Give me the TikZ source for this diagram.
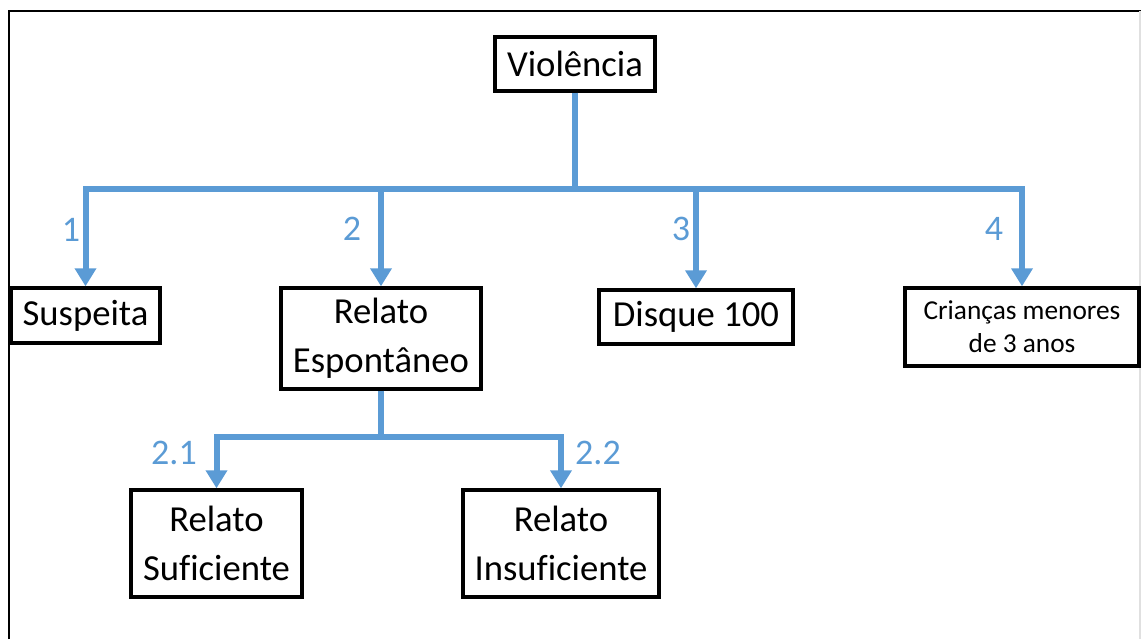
\documentclass[tikz,border=0pt]{standalone}
\usepackage{fontspec}
\setmainfont{Carlito}[Ligatures=NoCommon]
\usetikzlibrary{arrows.meta}
\definecolor{linkblue}{RGB}{91,155,213}

\begin{document}
\begin{tikzpicture}[x=0.75pt, y=-0.75pt,
  box/.style={rectangle, draw=black, line width=2.5pt, inner sep=0pt, align=center, font=\fontsize{27.5}{36.5}\selectfont},
  smallbox/.style={box, font=\fontsize{20.5}{25}\selectfont},
  link/.style={draw=linkblue, line width=4.5pt},
  arrow/.style={link, -{Triangle[length=13.5pt, width=15.5pt]}},
  num/.style={text=linkblue, inner sep=0pt, font=\fontsize{27}{32}\selectfont}]

\useasboundingbox (0,0) rectangle (1141,639);
\draw [line width=1.6pt] (9,639) -- (9,11) -- (1141,11);
\draw [draw=black!12, line width=0.8pt] (1140,11) -- (1140,639);

\node [box, minimum width=120pt, minimum height=40.5pt] (V) at (575, 64) {Violência};
\node [box, minimum width=111.75pt, minimum height=41.25pt] (S) at (85.5, 315.5) {Suspeita};
\node [box, minimum width=150pt, minimum height=75.75pt] (RE) at (381, 338.5) {Relato\\Espontâneo};
\node [box, minimum width=145.5pt, minimum height=40.5pt] (D) at (696, 317) {Disque 100};
\node [smallbox, minimum width=175.5pt, minimum height=58.5pt] (C) at (1022, 327) {Crianças menores\\de 3 anos};
\node [box, minimum width=128.25pt, minimum height=80.25pt] (RS) at (216.5, 543.5) {Relato\\Suficiente};
\node [box, minimum width=147pt, minimum height=80.25pt] (RI) at (561, 543.5) {Relato\\Insuficiente};

\coordinate (J) at (575, 189);
\coordinate (J2) at (381, 437);

\draw [link] (V) -- (J);
\draw [arrow] (J) -| (S);
\draw [arrow] (J) -| (RE);
\draw [arrow] (J) -| (D);
\draw [arrow] (J) -| (C);

\draw [link] (RE) -- (J2);
\draw [arrow] (J2) -| (RS);
\draw [arrow] (J2) -| (RI);

\node [num] (N1) at (71, 230) {1};
\node [num] (N2) at (352, 229) {2};
\node [num] (N3) at (681, 229) {3};
\node [num] (N4) at (994, 229) {4};
\node [num] (N21) at (174, 453) {2.1};
\node [num] (N22) at (598, 453) {2.2};

\end{tikzpicture}
\end{document}
